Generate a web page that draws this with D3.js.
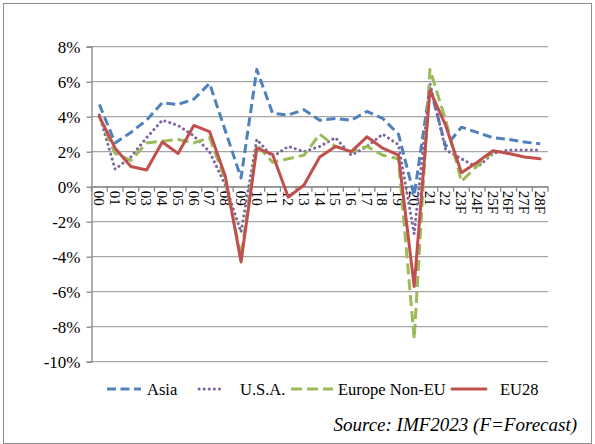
<!DOCTYPE html>
<html>
<head>
<meta charset="utf-8">
<script src="https://cdn.jsdelivr.net/npm/d3@7"></script>
<style>
  body { margin: 0; background: #fff; }
  svg text { font-family: 'Liberation Serif', 'Times New Roman', serif; }
</style>
</head>
<body>
<div id="chart"></div>
<script>
// years 2000-2022, then IMF forecasts 2023-2028
const years = ["00","01","02","03","04","05","06","07","08","09","10","11","12","13","14",
  "15","16","17","18","19","20","21","22","23F","24F","25F","26F","27F","28F"];

const asia = [4.7, 2.5, 3.1, 3.8, 4.8, 4.7, 5.0, 5.9, 3.2, 0.5, 6.7, 4.2, 4.1, 4.4, 3.8,
  3.9, 3.8, 4.3, 3.9, 3.0, -0.5, 5.7, 2.3, 3.4, 3.1, 2.8, 2.7, 2.55, 2.45];
const usa = [4.1, 1.0, 1.7, 2.8, 3.8, 3.5, 2.9, 2.0, 0.1, -2.6, 2.7, 1.7, 2.3, 2.0, 2.3,
  2.8, 1.8, 2.3, 3.0, 2.4, -2.7, 5.9, 2.1, 1.6, 1.1, 1.9, 2.1, 2.1, 2.1];
const europeNonEu = [4.0, 1.9, 1.5, 2.5, 2.6, 2.7, 2.5, 2.8, 0.4, -4.0, 2.4, 1.4, 1.6, 1.8, 3.0,
  2.3, 2.0, 2.3, 1.8, 1.6, -8.7, 6.7, 3.8, 0.3, 1.2, 2.0];
const eu28 = [4.0, 2.2, 1.15, 0.95, 2.55, 1.9, 3.5, 3.15, 0.6, -4.3, 2.2, 1.85, -0.6, 0.1, 1.7,
  2.3, 2.0, 2.85, 2.2, 1.8, -5.7, 5.5, 3.5, 0.8, 1.4, 2.05, 1.9, 1.7, 1.6];

const yTicks = [8, 6, 4, 2, 0, -2, -4, -6, -8, -10];

const series = [
  { name: "Asia", values: asia, color: "#4f81bd", dash: "9,4.5", cap: "butt" },
  { name: "U.S.A.", values: usa, color: "#8064a2", dash: "0.1,5", cap: "round" },
  { name: "Europe Non-EU", values: europeNonEu, color: "#9bbb59", dash: "11,5", cap: "butt" },
  { name: "EU28", values: eu28, color: "#c0504d", dash: null, cap: "round" }
];

const serif = "'Liberation Serif', 'Times New Roman', serif";
const W = 595, H = 444;
const svg = d3.select("#chart").append("svg").attr("width", W).attr("height", H);

// outer frame
svg.append("rect")
  .attr("x", 3.5).attr("y", 3.5)
  .attr("width", W - 7).attr("height", H - 4)
  .attr("fill", "none").attr("stroke", "#8c8c8c");

const x = d3.scaleBand().domain(years).range([91.5, 548]);
const y = d3.scaleLinear().domain([-10, 8]).range([361.7, 46.7]);
const cx = d => x(d) + x.bandwidth() / 2;

// gridlines
svg.append("g")
  .selectAll("line")
  .data(yTicks)
  .join("line")
  .attr("x1", x.range()[0]).attr("x2", x.range()[1])
  .attr("y1", d => y(d)).attr("y2", d => y(d))
  .attr("stroke", "#a6a6a6").attr("stroke-width", 1.3);

// y axis
const yAxis = svg.append("g")
  .attr("transform", `translate(${x.range()[0]},0)`)
  .call(d3.axisLeft(y).tickValues(yTicks).tickFormat(d => d + "%").tickSize(5).tickPadding(6))
  .attr("font-family", serif);
yAxis.select(".domain").attr("stroke", "#868686").attr("stroke-width", 1.3);
yAxis.selectAll(".tick line").attr("stroke", "#868686").attr("stroke-width", 1.3);
yAxis.selectAll("text")
  .attr("font-size", 17).attr("fill", "#000");

// x axis at 0%
const xAxis = svg.append("g")
  .attr("transform", `translate(0,${y(0)})`)
  .call(d3.axisBottom(x).tickSize(0).tickPadding(0))
  .attr("font-family", serif);
xAxis.select(".domain").attr("stroke", "#868686").attr("stroke-width", 1.3);
xAxis.selectAll(".tick text")
  .attr("font-size", 15).attr("fill", "#000")
  .attr("text-anchor", "start")
  .attr("dy", "0.35em")
  .attr("y", 0)
  .attr("transform", "translate(0,4) rotate(90)");

// tick marks between categories
svg.append("g")
  .selectAll("line")
  .data(years.concat(["end"]))
  .join("line")
  .attr("x1", (d, i) => x.range()[0] + i * x.step())
  .attr("x2", (d, i) => x.range()[0] + i * x.step())
  .attr("y1", y(0)).attr("y2", y(0) + 5)
  .attr("stroke", "#868686").attr("stroke-width", 1.3);

// lines
const line = d3.line()
  .x((d, i) => cx(years[i]))
  .y(d => y(d));

svg.append("g")
  .selectAll("path")
  .data(series)
  .join("path")
  .attr("d", s => line(s.values))
  .attr("fill", "none")
  .attr("stroke", s => s.color)
  .attr("stroke-width", 3)
  .attr("stroke-linejoin", "round")
  .attr("stroke-linecap", s => s.cap)
  .attr("stroke-dasharray", s => s.dash);

// legend
const legendPos = [
  { x1: 107, x2: 141, tx: 147 },
  { x1: 199, x2: 224, tx: 240 },
  { x1: 291, x2: 333, tx: 338 },
  { x1: 452, x2: 486, tx: 500 }
];
const legend = svg.append("g").attr("font-family", serif).selectAll("g")
  .data(series)
  .join("g");
legend.append("line")
  .attr("x1", (d, i) => legendPos[i].x1).attr("x2", (d, i) => legendPos[i].x2)
  .attr("y1", 389).attr("y2", 389)
  .attr("stroke", d => d.color)
  .attr("stroke-width", 3)
  .attr("stroke-linecap", d => d.cap)
  .attr("stroke-dasharray", d => d.dash);
legend.append("text")
  .attr("x", (d, i) => legendPos[i].tx)
  .attr("y", 395)
  .attr("font-size", 16.5)
  .text(d => d.name);

// source note
svg.append("text")
  .attr("x", 577).attr("y", 431)
  .attr("text-anchor", "end")
  .attr("font-family", serif)
  .attr("font-size", 19)
  .attr("font-style", "italic")
  .text("Source: IMF2023 (F=Forecast)");
</script>
</body>
</html>
